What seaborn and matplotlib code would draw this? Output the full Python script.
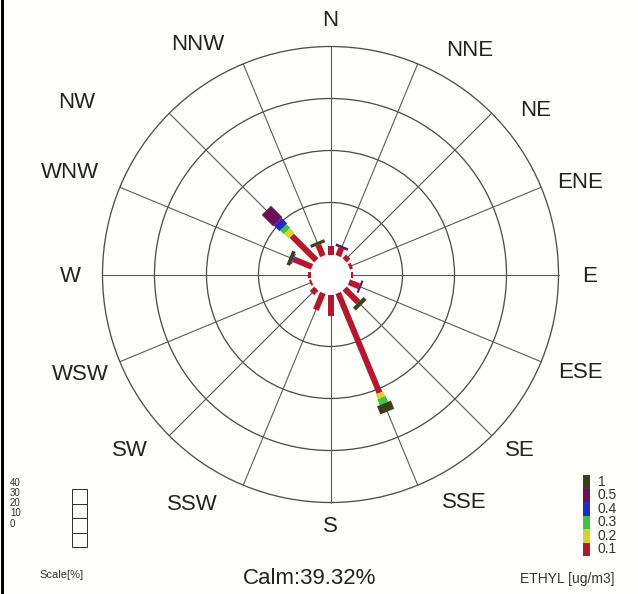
import numpy as np
import matplotlib
matplotlib.use("Agg")
import matplotlib.pyplot as plt
from matplotlib.patches import Circle, Rectangle
import seaborn as sns

# Wind directions (clockwise from north)
directions = ["N", "NNE", "NE", "ENE", "E", "ESE", "SE", "SSE",
              "S", "SSW", "SW", "WSW", "W", "WNW", "NW", "NNW"]

# Concentration classes (ETHYL, ug/m3) and their frequencies in % per direction
conc_labels = ["0.1", "0.2", "0.3", "0.4", "0.5", "1"]
freq_c01 = [1.7, 1.6, 1.0, 0.6, 0.4, 2.1, 3.7, 20.8, 4.2, 3.5, 1.2, 0.4, 0.4, 3.8, 6.7, 2.3]
freq_c02 = [0.0, 0.0, 0.0, 0.0, 0.0, 0.0, 0.0, 1.0, 0.0, 0.0, 0.0, 0.0, 0.0, 0.0, 1.3, 0.0]
freq_c03 = [0.0, 0.0, 0.0, 0.0, 0.0, 0.0, 0.0, 1.2, 0.0, 0.0, 0.0, 0.0, 0.0, 0.0, 1.0, 0.0]
freq_c04 = [0.0, 0.0, 0.0, 0.0, 0.0, 0.0, 0.0, 0.0, 0.0, 0.0, 0.0, 0.0, 0.0, 0.2, 1.5, 0.0]
freq_c05 = [0.0, 0.5, 0.0, 0.0, 0.0, 0.4, 0.0, 0.0, 0.0, 0.0, 0.0, 0.0, 0.0, 0.0, 3.1, 0.0]
freq_c1 = [0.0, 0.0, 0.0, 0.0, 0.0, 0.0, 0.8, 1.7, 0.0, 0.0, 0.0, 0.0, 0.0, 0.7, 0.0, 0.6]

calm_pct = 39.32
scale_ticks = [0, 10, 20, 30, 40]

class_freqs = [freq_c01, freq_c02, freq_c03, freq_c04, freq_c05, freq_c1]
class_colors = sns.color_palette(["#b3182c", "#d9d22e", "#3fc23f", "#1f2bc4", "#6a1055", "#3e3e1c"])
class_width_px = [6, 8, 9, 11, 13, 15]

sns.set_style("white")
plt.rcParams["font.family"] = ["Liberation Sans", "DejaVu Sans"]

W, H = 638, 594
fig = plt.figure(figsize=(W / 100, H / 100), dpi=100)
bg = "#fefefb"
fig.patch.set_facecolor(bg)
ax = fig.add_axes([0, 0, 1, 1])
ax.set_facecolor(bg)
ax.set_xlim(0, W)
ax.set_ylim(H, 0)
ax.set_aspect("equal")
ax.axis("off")

cx, cy = 330.5, 274.5
calm_r = 20.0
px_per_pct = 5.2
outer_r = calm_r + px_per_pct * max(scale_ticks)
PT = 0.72  # points per pixel at 100 dpi

# rings and spokes
for t in scale_ticks[1:]:
    ax.add_patch(Circle((cx, cy), calm_r + px_per_pct * t, fill=False,
                        ec="#4d4d4d", lw=1.3 * PT, zorder=1))
for i in range(len(directions)):
    th = np.deg2rad(i * 22.5)
    ux, uy = np.sin(th), -np.cos(th)
    ax.plot([cx + ux * calm_r, cx + ux * outer_r], [cy + uy * calm_r, cy + uy * outer_r],
            color="#5a5a5a", lw=1.1 * PT, zorder=1)
ax.add_patch(Circle((cx, cy), calm_r, fc="white", ec="none", zorder=2))

# stacked bars
for i in range(len(directions)):
    th = np.deg2rad(i * 22.5)
    ux, uy = np.sin(th), -np.cos(th)
    r0 = calm_r
    for k, freqs in enumerate(class_freqs):
        v = freqs[i]
        if v <= 0:
            continue
        r1 = r0 + v * px_per_pct
        ax.plot([cx + ux * r0, cx + ux * r1], [cy + uy * r0, cy + uy * r1],
                color=class_colors[k], lw=class_width_px[k] * PT,
                solid_capstyle="butt", zorder=3 + k)
        r0 = r1

# direction labels
label_pos = {
    "N": (330, 20), "NNE": (470, 50), "NE": (536, 110), "ENE": (580, 183),
    "E": (590, 277), "ESE": (580, 372), "SE": (520, 451), "SSE": (464, 503),
    "S": (330, 526), "SSW": (192, 504), "SW": (130, 451), "WSW": (80, 374),
    "W": (70, 277), "WNW": (70, 172), "NW": (77, 103), "NNW": (198, 45),
}
for d in directions:
    x, y = label_pos[d]
    ax.text(x, y, d, ha="center", va="center", fontsize=16, color="#222222")

ax.text(310, 578, f"Calm:{calm_pct:.2f}%", ha="center", va="center",
        fontsize=16, color="#222222")

# percentage scale
box_x, box_w, box_top, box_h = 72, 15, 489, 14.5
for j in range(4):
    ax.add_patch(Rectangle((box_x, box_top + j * box_h), box_w, box_h,
                           fill=False, ec="#333333", lw=1 * PT))
scale_label_y = {40: 483, 30: 493, 20: 503, 10: 513, 0: 524}
for t in scale_ticks:
    ax.text(10, scale_label_y[t], str(t), ha="left", va="center", fontsize=7, color="#333333")
ax.text(62, 575, "Scale[%]", ha="center", va="center", fontsize=8, color="#333333")

# concentration legend
cb_x, cb_w, cb_bottom, cb_h = 583, 7, 556, 13.5
for k, lab in enumerate(conc_labels):
    y0 = cb_bottom - (k + 1) * cb_h
    ax.add_patch(Rectangle((cb_x, y0), cb_w, cb_h, fc=class_colors[k], ec="none"))
    ax.text(598, y0 + cb_h / 2, lab, ha="left", va="center", fontsize=10, color="#333333")
ax.text(614, 579, "ETHYL [ug/m3]", ha="right", va="center", fontsize=10, color="#333333")

# left frame edge
ax.plot([1.5, 1.5], [0, H], color="black", lw=3 * PT)

fig.savefig("out.png", dpi=100, facecolor=bg)
